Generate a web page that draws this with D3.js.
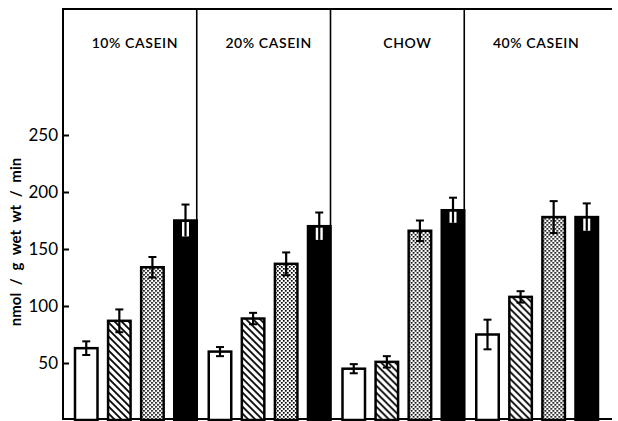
<!DOCTYPE html>
<html>
<head>
<meta charset="utf-8">
<script src="https://cdn.jsdelivr.net/npm/d3@7"></script>
<style>
  body { margin: 0; background: #fff; }
  svg { display: block; font-family: Lato, "Open Sans", sans-serif; }
</style>
</head>
<body>
<div id="chart"></div>
<script>
// diets (panels) and the four bars in each panel
const groups = ["10% CASEIN", "20% CASEIN", "CHOW", "40% CASEIN"];
const series = ["open", "hatched", "stippled", "solid"];

// bar heights, nmol / g wet wt / min, one entry per panel
const openVals     = [63, 60, 45, 75];
const hatchedVals  = [87, 89, 51, 108];
const stippledVals = [134, 137, 166, 178];
const solidVals    = [175, 170, 184, 178];

// error bar half-lengths
const openErr     = [6, 4, 4, 13];
const hatchedErr  = [10, 5, 5, 5];
const stippledErr = [9, 10, 9, 14];
const solidErr    = [14, 12, 11, 12];

const yTicks = [50, 100, 150, 200, 250];

const values = { open: openVals, hatched: hatchedVals, stippled: stippledVals, solid: solidVals };
const errors = { open: openErr, hatched: hatchedErr, stippled: stippledErr, solid: solidErr };

const width = 618, height = 421;
const plotLeft = 63, plotRight = 598, plotTop = 9, baseY = 420, lineEnd = 612;

const svg = d3.select('#chart').append('svg')
    .attr('width', width)
    .attr('height', height);

// fills
const defs = svg.append('defs');
const hatch = defs.append('pattern')
    .attr('id', 'hatch')
    .attr('patternUnits', 'userSpaceOnUse')
    .attr('width', 7).attr('height', 7);
hatch.append('rect').attr('width', 7).attr('height', 7).attr('fill', '#fff');
hatch.append('path')
    .attr('d', 'M0,0 L7,7 M-2,5 L2,9 M5,-2 L9,2')
    .attr('stroke', '#000')
    .attr('stroke-width', 1.8);

const dots = defs.append('pattern')
    .attr('id', 'dots')
    .attr('patternUnits', 'userSpaceOnUse')
    .attr('width', 4).attr('height', 4);
dots.append('rect').attr('width', 4).attr('height', 4).attr('fill', '#fff');
dots.append('rect').attr('width', 1.7).attr('height', 1.7).attr('fill', '#000');
dots.append('rect').attr('x', 2).attr('y', 2).attr('width', 1.7).attr('height', 1.7).attr('fill', '#000');

const fills = { open: '#fff', hatched: 'url(#hatch)', stippled: 'url(#dots)', solid: '#000' };

// scales
const x0 = d3.scaleBand().domain(groups).range([plotLeft, plotRight]);
const x1 = d3.scaleBand().domain(series).range([12, x0.bandwidth()]).paddingInner(0.32);
const y = d3.scaleLinear().domain([0, 250]).range([baseY, baseY - 250 * 1.14]);

// frame: top line, panel dividers, bottom line
svg.append('line')
    .attr('x1', plotLeft).attr('x2', lineEnd)
    .attr('y1', plotTop).attr('y2', plotTop)
    .attr('stroke', '#000').attr('stroke-width', 2);
svg.append('line')
    .attr('x1', plotLeft).attr('x2', lineEnd)
    .attr('y1', baseY - 1).attr('y2', baseY - 1)
    .attr('stroke', '#000').attr('stroke-width', 2);
svg.selectAll('.divider')
    .data(groups.slice(1))
    .join('line')
    .attr('class', 'divider')
    .attr('x1', d => x0(d)).attr('x2', d => x0(d))
    .attr('y1', plotTop).attr('y2', baseY)
    .attr('stroke', '#000').attr('stroke-width', 1.6);

// panel titles
svg.selectAll('.title')
    .data(groups)
    .join('text')
    .attr('class', 'title')
    .attr('x', d => x0(d) + x0.bandwidth() / 2 + (d === 'CHOW' ? 10 : 5))
    .attr('y', 48)
    .attr('text-anchor', 'middle')
    .attr('font-size', 14)
    .attr('letter-spacing', 0.6)
    .attr('font-weight', 600)
    .text(d => d);

// bars
const panel = svg.selectAll('.panel')
    .data(groups)
    .join('g')
    .attr('class', 'panel')
    .attr('transform', d => 'translate(' + x0(d) + ',0)');

const bw = x1.bandwidth();
const cells = panel.selectAll('.cell')
    .data((g, i) => series.map(s => ({ s: s, v: values[s][i], e: errors[s][i] })))
    .join('g')
    .attr('class', 'cell')
    .attr('transform', d => 'translate(' + x1(d.s) + ',0)');

cells.append('rect')
    .attr('x', 0)
    .attr('y', d => y(d.v))
    .attr('width', bw)
    .attr('height', d => baseY - y(d.v))
    .attr('fill', d => fills[d.s])
    .attr('stroke', '#000')
    .attr('stroke-width', 2.5);

// error bars
const cx = bw / 2;
cells.filter(d => d.s === 'solid').append('rect')
    .attr('x', cx - 3.5)
    .attr('y', d => y(d.v) + 1.5)
    .attr('width', 7)
    .attr('height', d => y(d.v - d.e) - y(d.v) - 1.5)
    .attr('fill', '#fff');
cells.append('line')
    .attr('x1', cx).attr('x2', cx)
    .attr('y1', d => y(d.v + d.e))
    .attr('y2', d => y(d.v - d.e))
    .attr('stroke', '#000').attr('stroke-width', 2.2);
cells.append('line')
    .attr('x1', cx - 4).attr('x2', cx + 4)
    .attr('y1', d => y(d.v + d.e)).attr('y2', d => y(d.v + d.e))
    .attr('stroke', '#000').attr('stroke-width', 2);
cells.filter(d => d.s !== 'solid').append('line')
    .attr('x1', cx - 4).attr('x2', cx + 4)
    .attr('y1', d => y(d.v - d.e)).attr('y2', d => y(d.v - d.e))
    .attr('stroke', '#000').attr('stroke-width', 2);

// y axis, ticks pointing inward
const yAxis = svg.append('g')
    .attr('transform', 'translate(' + plotLeft + ',0)')
    .call(d3.axisLeft(y).tickValues(yTicks).tickSize(-6).tickPadding(5));
yAxis.select('.domain').remove();
yAxis.selectAll('.tick line').attr('stroke', '#000').attr('stroke-width', 2);
yAxis.selectAll('.tick text')
    .attr('font-family', 'Lato, "Open Sans", sans-serif')
    .attr('font-size', 17)
    .attr('fill', '#000');
svg.append('line')
    .attr('x1', plotLeft).attr('x2', plotLeft)
    .attr('y1', plotTop - 1).attr('y2', baseY)
    .attr('stroke', '#000').attr('stroke-width', 2);

// y label
svg.append('text')
    .attr('transform', 'translate(21,242) rotate(-90)')
    .attr('text-anchor', 'middle')
    .attr('font-size', 15)
    .attr('font-weight', 700)
    .attr('word-spacing', 4)
    .text('nmol / g wet wt / min');
</script>
</body>
</html>
